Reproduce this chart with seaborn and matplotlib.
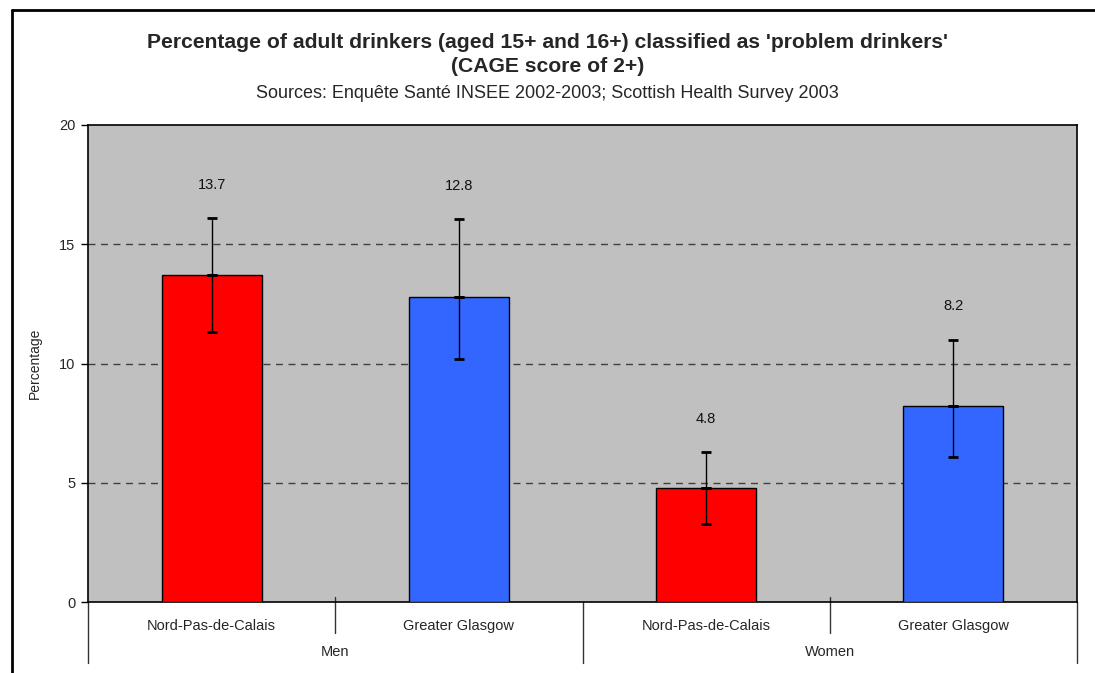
import numpy as np
import pandas as pd
import matplotlib
matplotlib.use('Agg')
import matplotlib.pyplot as plt
import seaborn as sns
from matplotlib.lines import Line2D

# data
groups = ['Men', 'Men', 'Women', 'Women']
regions = ['Nord-Pas-de-Calais', 'Greater Glasgow', 'Nord-Pas-de-Calais', 'Greater Glasgow']
values = [13.7, 12.8, 4.8, 8.2]
err_low = [11.3, 10.2, 3.25, 6.1]
err_high = [16.1, 16.05, 6.3, 11.0]
group_names = ['Men', 'Women']
yticks = [0, 5, 10, 15, 20]

sns.set_style('white')
plt.rcParams['font.family'] = ['Liberation Sans', 'DejaVu Sans']

df = pd.DataFrame({'group': groups, 'region': regions, 'value': values})
df['cat'] = df['group'] + '|' + df['region']

fig = plt.figure(figsize=(10.95, 6.73), dpi=100)
ax = fig.add_axes([88 / 1095, 1 - 602 / 673, (1077 - 88) / 1095, (602 - 125) / 673])

pal = {'Nord-Pas-de-Calais': '#FF0000', 'Greater Glasgow': '#3366FF'}
sns.barplot(data=df, x='cat', y='value', hue='region', palette=pal, dodge=False, saturation=1,
            width=0.405, edgecolor='black', linewidth=1, legend=False, ax=ax, zorder=3)

xs = np.arange(len(values))
vals = np.array(values)
lo = vals - np.array(err_low)
hi = np.array(err_high) - vals
ax.errorbar(xs, vals, yerr=[lo, hi], fmt='none', ecolor='black', elinewidth=1,
            capsize=3.5, capthick=2, zorder=4)
# small mark at the bar top, as in the original
ax.errorbar(xs, vals, yerr=0, fmt='none', ecolor='black', capsize=3.5, capthick=2, zorder=4)

for x, v, h in zip(xs, values, err_high):
    ax.text(x, h + 1.1, f'{v}', ha='center', va='bottom', fontsize=10.5, color='#111111')

ax.set_facecolor('#C0C0C0')
ax.set_xlim(-0.5, len(values) - 0.5)
ax.set_ylim(0, 20)
ax.set_yticks(yticks)
ax.set_yticklabels([str(t) for t in yticks], fontsize=10.5)
ax.tick_params(axis='y', direction='out', length=5, width=1, color='black', pad=4, left=True)
ax.set_xticks([])
ax.set_xlabel('')
ax.set_ylabel('Percentage', fontsize=10)
ax.yaxis.set_label_coords(-0.047, 0.5)
for t in yticks[1:-1]:
    ax.axhline(t, color='#404040', ls=(0, (5, 4)), lw=1, zorder=1)
for s in ax.spines.values():
    s.set_color('black')
    s.set_linewidth(1.2)

# two-level category axis
trans = ax.get_xaxis_transform()
for x, r in zip(xs, regions):
    ax.text(x, -0.05, r, transform=trans, ha='center', va='center', fontsize=10.5)
for gi, g in enumerate(group_names):
    ax.text(gi * 2 + 0.5, -0.105, g, transform=trans, ha='center', va='center', fontsize=10.5)
for x in [0.5, 2.5]:
    ax.add_line(Line2D([x, x], [0.01, -0.065], transform=trans, color='#333333', lw=1, clip_on=False))
for x in [-0.5, 1.5, 3.5]:
    ax.add_line(Line2D([x, x], [0, -0.128], transform=trans, color='#333333', lw=1, clip_on=False))

# titles
fig.text(0.5, 1 - 43 / 673, "Percentage of adult drinkers (aged 15+ and 16+) classified as 'problem drinkers'",
         ha='center', va='center', fontsize=15.2, fontweight='bold')
fig.text(0.5, 1 - 66 / 673, '(CAGE score of 2+)', ha='center', va='center', fontsize=15.2, fontweight='bold')
fig.text(0.5, 1 - 94 / 673, 'Sources: Enquête Santé INSEE 2002-2003; Scottish Health Survey 2003',
         ha='center', va='center', fontsize=13)

# outer chart frame
fig.add_artist(Line2D([12 / 1095, 12 / 1095], [0, 1 - 10 / 673], transform=fig.transFigure, color='black', lw=2))
fig.add_artist(Line2D([12 / 1095, 1], [1 - 10 / 673, 1 - 10 / 673], transform=fig.transFigure, color='black', lw=2))

fig.savefig('out.png', dpi=100)
